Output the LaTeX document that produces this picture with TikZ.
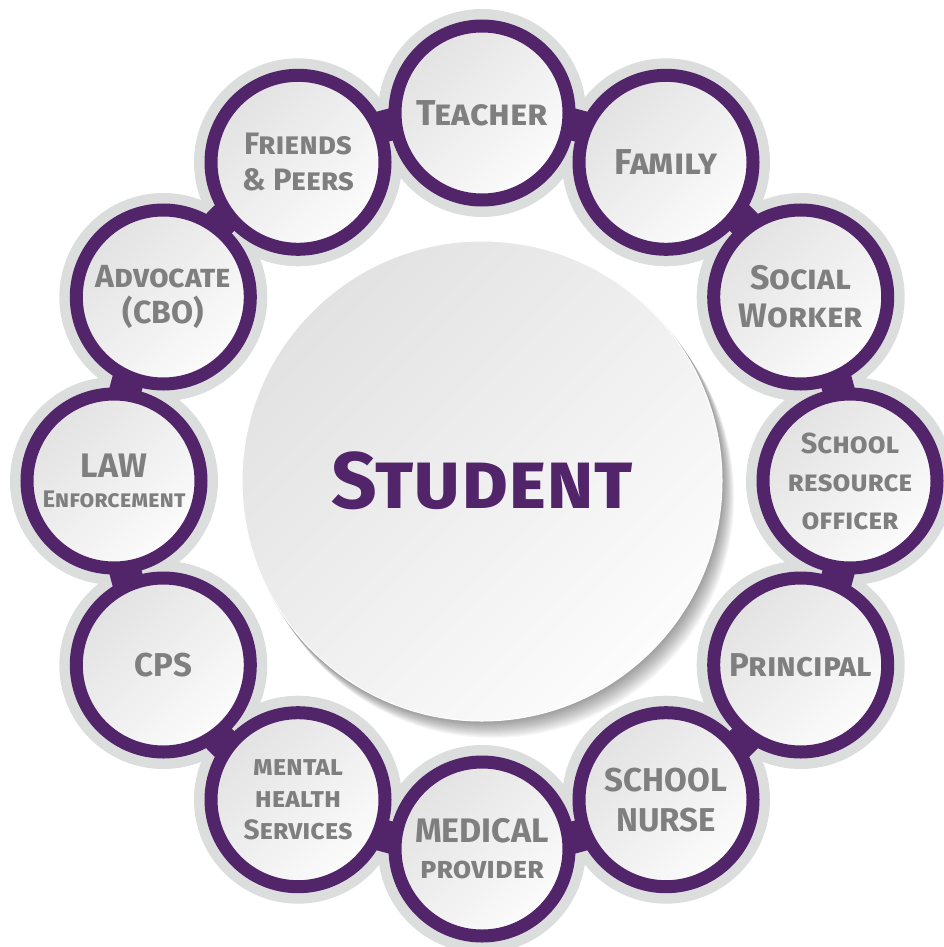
\documentclass[tikz,border=0pt]{standalone}
\usepackage{fontspec}
\setmainfont{Fira Sans}
\usepackage{tikz}
\usetikzlibrary{positioning,calc}
\definecolor{ringpurple}{RGB}{82,36,106}
\definecolor{halogray}{RGB}{220,222,222}
\definecolor{labelgray}{RGB}{127,127,127}
\definecolor{discgray}{RGB}{226,226,226}
\definecolor{discwhite}{RGB}{252,252,252}
\newcommand\fsz[2]{\fontsize{#1}{#2}\selectfont}
\pgfdeclarelayer{halo}
\pgfdeclarelayer{band}
\pgfsetlayers{halo,band,main}

\begin{document}
\begin{tikzpicture}[x=1pt, y=-1pt,
    member/.style={circle, minimum size=174pt, inner sep=0pt, draw=ringpurple, line width=13pt, top color=discgray, bottom color=discwhite, shading angle=45, text=labelgray, align=center},
    hubdisc/.style={circle, minimum size=480pt, inner sep=0pt, draw=white, line width=1pt, top color=discgray, bottom color=discwhite, shading angle=45, text=ringpurple, font=\bfseries\scshape\fsz{80}{84}}]
					\useasboundingbox (0,0) rectangle (943,947);
					\coordinate (c) at (482,481);
					\foreach \k in {1,...,16}
						\fill[black, opacity=0.028] ([xshift=\k*0.7pt, yshift=-\k*1pt]c) circle (241pt);
					\node[hubdisc] (hub) at (c) {Student};
					
					\foreach \ang/\nm/\sz/\lead/\txt in {-90/teacher/36/38/{Teacher}, -60/family/36/38/{Family}, -30/social/34/38/{Social\\Worker}, 0/sro/29/38/{School\\resource\\officer}, 30/principal/33/38/{Principal}, 60/nurse/33/40/{SCHOOL\\NURSE}, 90/medical/34/36/{MEDICAL\\\fsz{30}{36}provider}, 120/mental/28/32/{mental\\health\\Services}, 150/cps/33/38/{CPS}, 180/law/34/30/{LAW\\\fsz{24}{30}Enforcement}, 210/advocate/32/36/{Advocate\\(CBO)}, 240/friends/31/36/{Friends\\\& Peers}}
						\node[member, font=\bfseries\scshape\fsz{\sz}{\lead}] (\nm) at ($(c)+(\ang:368)$) {\txt};
					
					\begin{pgfonlayer}{halo}
						\foreach \nm in {teacher,family,social,sro,principal,nurse,medical,mental,cps,law,advocate,friends}
							\fill[halogray] (\nm.center) circle (104pt);
						\draw[halogray, line width=52pt] (hub.center) circle (368pt);
					\end{pgfonlayer}
					\begin{pgfonlayer}{band}
						\foreach \a/\b [count=\k from 0] in {teacher/family, family/social, social/sro, sro/principal, principal/nurse, nurse/medical, medical/mental, mental/cps, cps/law, law/advocate, advocate/friends, friends/teacher}
							\draw[ringpurple, line width=32pt] (\a.center) arc[start angle=90-30*\k, delta angle=-30, radius=368pt];
					\end{pgfonlayer}
				\end{tikzpicture}
\end{document}
